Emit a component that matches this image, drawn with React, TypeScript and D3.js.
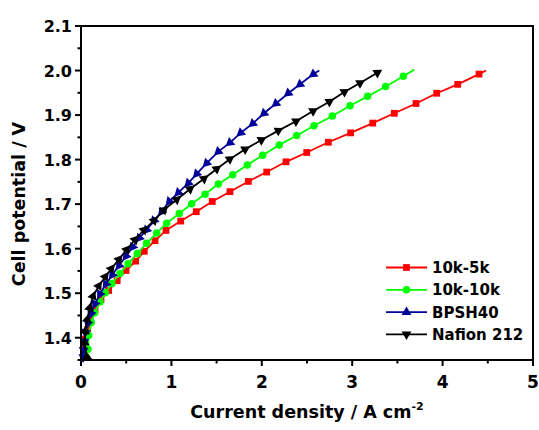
import * as d3 from "d3";

const W = 539;
const H = 430;
const plot = { left: 81, right: 533, top: 26, bottom: 360 };

const xTicks = [0, 1, 2, 3, 4, 5];
const yTicks = [1.4, 1.5, 1.6, 1.7, 1.8, 1.9, 2.0, 2.1];

// [current density, cell potential]; last pair of each list is the line end (no marker)
const data10k5k: [number, number][] = [
  [0.035, 1.356], [0.03, 1.375], [0.044, 1.397], [0.074, 1.419], [0.103, 1.443],
  [0.155, 1.463], [0.221, 1.486], [0.306, 1.506], [0.40, 1.528], [0.498, 1.551],
  [0.605, 1.572], [0.70, 1.594], [0.819, 1.618], [0.94, 1.641], [1.103, 1.662],
  [1.275, 1.683], [1.452, 1.706], [1.648, 1.728], [1.851, 1.751], [2.054, 1.772],
  [2.268, 1.795], [2.497, 1.816], [2.736, 1.839], [2.983, 1.86], [3.227, 1.882],
  [3.466, 1.904], [3.706, 1.926], [3.935, 1.949], [4.167, 1.969], [4.403, 1.992],
  [4.48, 2.0],
];
const data10k10k: [number, number][] = [
  [0.06, 1.357], [0.077, 1.374], [0.085, 1.405], [0.114, 1.434], [0.151, 1.456],
  [0.21, 1.48], [0.269, 1.501], [0.343, 1.522], [0.431, 1.544], [0.52, 1.566],
  [0.623, 1.589], [0.725, 1.612], [0.837, 1.635], [0.948, 1.657], [1.087, 1.679],
  [1.224, 1.701], [1.372, 1.722], [1.519, 1.745], [1.678, 1.766], [1.84, 1.788],
  [2.01, 1.81], [2.193, 1.833], [2.386, 1.854], [2.577, 1.876], [2.78, 1.898],
  [2.976, 1.921], [3.17, 1.942], [3.37, 1.964], [3.566, 1.987], [3.687, 2.002],
];
const dataBPSH40: [number, number][] = [
  [0.025, 1.356], [0.028, 1.372], [0.035, 1.392], [0.05, 1.412], [0.075, 1.432],
  [0.11, 1.454], [0.155, 1.476], [0.21, 1.498], [0.275, 1.52], [0.345, 1.541],
  [0.42, 1.562], [0.498, 1.583], [0.572, 1.604], [0.645, 1.624], [0.726, 1.642],
  [0.808, 1.663], [0.892, 1.683], [0.977, 1.706], [1.077, 1.726], [1.187, 1.747],
  [1.28, 1.768], [1.39, 1.792], [1.519, 1.818], [1.648, 1.838], [1.767, 1.86],
  [1.9, 1.881], [2.024, 1.904], [2.157, 1.926], [2.293, 1.949], [2.423, 1.969],
  [2.57, 1.992], [2.636, 2.0],
];
const dataNafion: [number, number][] = [
  [0.065, 1.357], [0.041, 1.389], [0.048, 1.415], [0.07, 1.441], [0.096, 1.467],
  [0.133, 1.493], [0.196, 1.516], [0.269, 1.537], [0.335, 1.555], [0.42, 1.576],
  [0.505, 1.598], [0.597, 1.62], [0.697, 1.642], [0.808, 1.663], [0.918, 1.687],
  [1.058, 1.71], [1.206, 1.734], [1.36, 1.757], [1.5, 1.779], [1.645, 1.801],
  [1.815, 1.823], [1.995, 1.844], [2.183, 1.865], [2.378, 1.886], [2.567, 1.909],
  [2.747, 1.93], [2.913, 1.952], [3.086, 1.972], [3.278, 1.995], [3.31, 2.0],
];

const seriesNames = ["10k-5k", "10k-10k", "BPSH40", "Nafion 212"];
const seriesData = [data10k5k, data10k10k, dataBPSH40, dataNafion];
const seriesColors = ["#ff0000", "#00ff00", "#000099", "#000000"];
const seriesSymbols = ["square", "circle", "up", "down"];

const font = "'DejaVu Sans', Verdana, sans-serif";

const x = d3.scaleLinear().domain([0, 5]).range([plot.left, plot.right]);
const y = d3.scaleLinear().domain([1.35, 2.1]).range([plot.bottom, plot.top]);

const line = d3.line<[number, number]>()
  .x((d) => x(d[0]))
  .y((d) => y(d[1]));

function symbolPath(kind: string) {
  if (kind === "square") return d3.symbol(d3.symbolSquare, 46)()!;
  if (kind === "circle") return d3.symbol(d3.symbolCircle, 44)()!;
  return d3.symbol(d3.symbolTriangle, 42)()!;
}

// triangles in the plot lie along the curve like arrow heads
function markerAngle(kind: string, pts: [number, number][], i: number) {
  if (kind === "square" || kind === "circle") return 0;
  const a = pts[Math.max(0, i - 1)];
  const b = pts[Math.min(pts.length - 1, i + 1)];
  const ang = (Math.atan2(y(b[1]) - y(a[1]), x(b[0]) - x(a[0])) * 180) / Math.PI;
  return kind === "down" ? ang + 90 : ang + 270;
}

export default function App() {
  const xMinor = d3.range(0.5, 5, 1);
  const yMinor = d3.range(1.35, 2.1, 0.1);

  return (
    <svg width={W} height={H} style={{ position: "absolute", left: 0, top: 0, background: "#fff" }}>
      {/* curves */}
      {seriesData.map((pts, s) => (
        <g key={s}>
          <path d={line(pts)!} fill="none" stroke={seriesColors[s]} strokeWidth={1.8} />
          {pts.slice(0, -1).map((p, i) => (
            <path
              key={i}
              d={symbolPath(seriesSymbols[s])}
              fill={seriesColors[s]}
              transform={`translate(${x(p[0])},${y(p[1])}) rotate(${markerAngle(seriesSymbols[s], pts, i)})`}
            />
          ))}
        </g>
      ))}

      {/* frame */}
      <rect x={plot.left} y={plot.top} width={plot.right - plot.left} height={plot.bottom - plot.top}
        fill="none" stroke="#000" strokeWidth={2} />

      {/* x ticks */}
      {xTicks.map((t) => (
        <g key={t}>
          <line x1={x(t)} x2={x(t)} y1={plot.bottom} y2={plot.bottom + 6} stroke="#000" strokeWidth={2} />
          <text x={x(t)} y={387.5} textAnchor="middle" fontFamily={font} fontWeight="bold" fontSize={17}>{t}</text>
        </g>
      ))}
      {xMinor.map((t) => (
        <line key={t} x1={x(t)} x2={x(t)} y1={plot.bottom} y2={plot.bottom + 3.5} stroke="#000" strokeWidth={2} />
      ))}

      {/* y ticks */}
      {yTicks.map((t) => (
        <g key={t}>
          <line x1={plot.left - 6} x2={plot.left} y1={y(t)} y2={y(t)} stroke="#000" strokeWidth={2} />
          <text x={72} y={y(t) + 6} textAnchor="end" fontFamily={font} fontWeight="bold" fontSize={16}>{t.toFixed(1)}</text>
        </g>
      ))}
      {yMinor.map((t) => (
        <line key={t} x1={plot.left - 3.5} x2={plot.left} y1={y(t)} y2={y(t)} stroke="#000" strokeWidth={2} />
      ))}

      {/* axis titles */}
      <text x={307} y={418} textAnchor="middle" fontFamily={font} fontWeight="bold" fontSize={17.5}>
        Current density / A cm<tspan dy={-8} fontSize={11}>-2</tspan>
      </text>
      <text transform="translate(25,204) rotate(-90)" textAnchor="middle" fontFamily={font} fontWeight="bold" fontSize={17.5}>
        Cell potential / V
      </text>

      {/* legend */}
      {seriesNames.map((name, s) => {
        const ly = 267.5 + s * 22.3;
        return (
          <g key={name}>
            <line x1={386} x2={427} y1={ly} y2={ly} stroke={seriesColors[s]} strokeWidth={1.8} />
            <path d={symbolPath(seriesSymbols[s])} fill={seriesColors[s]}
              transform={`translate(406.5,${ly}) rotate(${seriesSymbols[s] === "down" ? 180 : 0})`} />
            <text x={432} y={ly + 5.5} fontFamily={font} fontWeight="bold" fontSize={15}>{name}</text>
          </g>
        );
      })}
    </svg>
  );
}
